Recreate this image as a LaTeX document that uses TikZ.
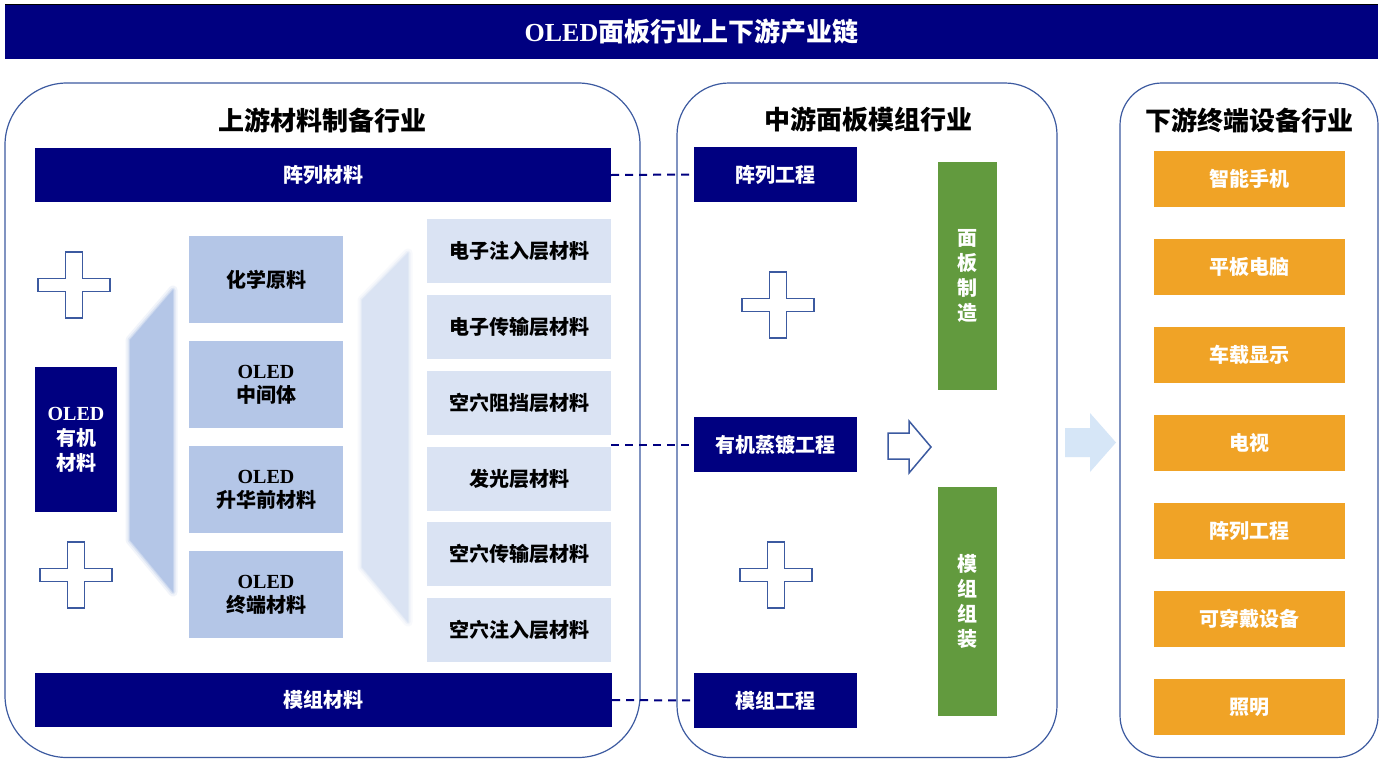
\documentclass[tikz,border=0pt]{standalone}
\usepackage{fontspec}
\setmainfont{Noto Sans CJK SC}
\newfontfamily\lat{Liberation Serif}
\definecolor{navy}{RGB}{0,0,128}
\definecolor{panelc}{RGB}{60,90,160}
\definecolor{midblue}{RGB}{180,198,231}
\definecolor{paleblue}{RGB}{218,227,243}
\definecolor{greenc}{RGB}{98,154,62}
\definecolor{orangec}{RGB}{240,163,38}
\definecolor{arrowblue}{RGB}{214,230,247}
\newcommand{\olat}[1]{{\lat\bfseries #1}}
\begin{document}
\begin{tikzpicture}[x=1pt,y=-1pt,
  every node/.style={inner sep=0pt, outer sep=0pt, align=center},
  boxbase/.style={rectangle, font=\fontsize{20}{24}\selectfont\bfseries},
  navybox/.style={boxbase, fill=navy, text=white},
  midbox/.style={boxbase, fill=midblue, text=black, minimum width=154, minimum height=87},
  palebox/.style={boxbase, fill=paleblue, text=black, minimum width=184, minimum height=64},
  greenbox/.style={boxbase, fill=greenc, text=white, minimum width=59, minimum height=228, font=\fontsize{20}{25}\selectfont\bfseries},
  orangebox/.style={boxbase, fill=orangec, text=white, minimum width=191, minimum height=56},
  panel/.style={draw=panelc, line width=1.2pt},
  sectitle/.style={font=\fontsize{26}{30}\selectfont\bfseries, text=black},
  dashline/.style={draw=navy, line width=2pt, dash pattern=on 8pt off 6pt},
  plusst/.style={draw=panelc, fill=white, line width=1.5pt}
]
\useasboundingbox (0,0) rectangle (1399,758);
\fill[white] (0,0) rectangle (1399,758);

% title bar
\node[fill=navy, minimum width=1373, minimum height=54, text=white,
      font=\fontsize{26}{30}\selectfont\bfseries] (title) at (691.5,31.5) {\olat{OLED}面板行业上下游产业链};
\draw[black, line width=1.5pt] (title.north west) -- (title.north east);

% panels
\draw[panel, rounded corners=62] (5,83) rectangle (640,757.5);
\draw[panel, rounded corners=52] (677,83) rectangle (1057,757.5);
\draw[panel, rounded corners=42] (1120,83) rectangle (1378,757.5);

\node[sectitle] (t1) at (322,120) {上游材料制备行业};
\node[sectitle] (t2) at (868,120) {中游面板模组行业};
\node[sectitle] (t3) at (1249,120) {下游终端设备行业};

% left panel
\node[navybox, minimum width=576, minimum height=54] (zlcl) at (323,175) {阵列材料};
\node[navybox, minimum width=577, minimum height=54] (mzcl) at (323.5,700) {模组材料};
\node[navybox, minimum width=82, minimum height=145, font=\fontsize{20}{25}\selectfont\bfseries] (yjcl) at (76,439.5) {\olat{OLED}\\有机\\材料};

% pluses
\foreach \cx/\cy in {74/285, 76/575, 778/305, 776/575}{
  \begin{scope}[shift={(\cx,\cy)}]
    \draw[plusst] (-8.5,-33) -- (8.5,-33) -- (8.5,-6.5) -- (36,-6.5) -- (36,6.5) -- (8.5,6.5) -- (8.5,33)
      -- (-8.5,33) -- (-8.5,6.5) -- (-36,6.5) -- (-36,-6.5) -- (-8.5,-6.5) -- cycle;
  \end{scope}
}

% blurred trapezoids
\foreach \w/\o in {9/0.18, 5/0.3, 2/0.5}{
  \draw[midblue, line width=\w pt, opacity=\o, line join=round] (130,340) -- (173,290) -- (173,592) -- (130,540) -- cycle;
  \draw[paleblue, line width=\w pt, opacity=\o, line join=round] (362,300) -- (408,253) -- (408,622) -- (362,567) -- cycle;
}
\fill[midblue] (130,340) -- (173,290) -- (173,592) -- (130,540) -- cycle;
\fill[paleblue] (362,300) -- (408,253) -- (408,622) -- (362,567) -- cycle;

% column 2
\node[midbox] (hxyl) at (266,279.5) {化学原料};
\node[midbox, font=\fontsize{20}{24}\selectfont\bfseries] (zjt) at (266,384.5) {\olat{OLED}\\中间体};
\node[midbox, font=\fontsize{20}{24}\selectfont\bfseries] (shq) at (266,489.5) {\olat{OLED}\\升华前材料};
\node[midbox, font=\fontsize{20}{24}\selectfont\bfseries] (zdcl) at (266,594.5) {\olat{OLED}\\终端材料};

% column 3
\node[palebox] (c31) at (519,251) {电子注入层材料};
\node[palebox] (c32) at (519,327) {电子传输层材料};
\node[palebox] (c33) at (519,402.5) {空穴阻挡层材料};
\node[palebox] (c34) at (519,478.5) {发光层材料};
\node[palebox] (c35) at (519,554) {空穴传输层材料};
\node[palebox] (c36) at (519,629.5) {空穴注入层材料};

% middle panel
\node[navybox, minimum width=163, minimum height=55] (zlgc) at (775.5,174.5) {阵列工程};
\node[navybox, minimum width=163, minimum height=55] (yjzd) at (775.5,444.5) {有机蒸镀工程};
\node[navybox, minimum width=163, minimum height=55] (mzgc) at (775.5,700.5) {模组工程};

\node[greenbox] (mbzz) at (967.5,276) {面\\板\\制\\造};
\node[greenbox, minimum height=229] (mzzz) at (967.5,601.5) {模\\组\\组\\装};

% dashed connectors
\coordinate (c3r) at (611,444.5);
\draw[dashline] (zlcl.east) -- (zlgc.west);
\draw[dashline] (c3r) -- (yjzd.west);
\draw[dashline] (mzcl.east) -- (mzgc.west);

% arrows
\draw[draw=panelc, fill=white, line width=1.5pt, line join=miter]
  (888,433) -- (909,433) -- (909,421) -- (931,447) -- (909,473) -- (909,459) -- (888,459) -- cycle;
\fill[arrowblue]
  (1065,428) -- (1090,428) -- (1090,413) -- (1116,442.5) -- (1090,472) -- (1090,457) -- (1065,457) -- cycle;

% right panel
\node[orangebox] (o1) at (1249.5,179) {智能手机};
\node[orangebox] (o2) at (1249.5,267) {平板电脑};
\node[orangebox] (o3) at (1249.5,355) {车载显示};
\node[orangebox] (o4) at (1249.5,443) {电视};
\node[orangebox] (o5) at (1249.5,531) {阵列工程};
\node[orangebox] (o6) at (1249.5,619) {可穿戴设备};
\node[orangebox] (o7) at (1249.5,707) {照明};
\end{tikzpicture}
\end{document}
